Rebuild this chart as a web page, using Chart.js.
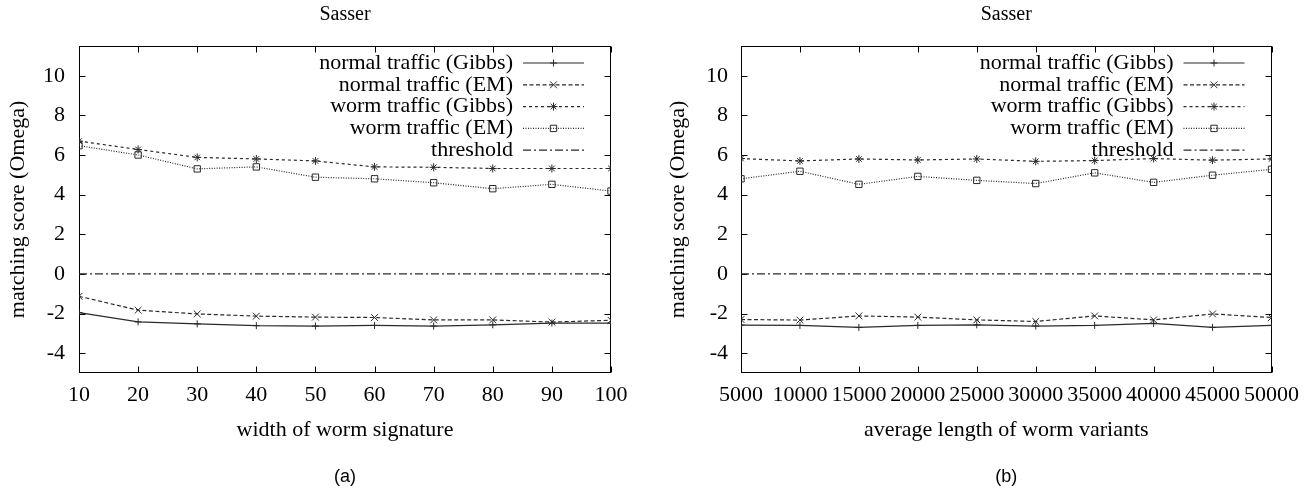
<!DOCTYPE html>
<html>
<head>
<meta charset="utf-8">
<title>Sasser</title>
<script src="https://cdn.jsdelivr.net/npm/chart.js@4.4.1/dist/chart.umd.min.js"></script>
<style>
  html, body { margin: 0; padding: 0; background: #fff; }
  #wrap { position: relative; width: 1308px; height: 498px; }
  .panel { position: absolute; top: 0; width: 654px; height: 498px; }
</style>
</head>
<body>
<div id="wrap">
  <div class="panel" style="left:0"><canvas id="chartA" width="654" height="498"></canvas></div>
  <div class="panel" style="left:654px"><canvas id="chartB" width="654" height="498"></canvas></div>
</div>
<script>
// --- DATOS ---
const seriesNames = ['normal traffic (Gibbs)', 'normal traffic (EM)', 'worm traffic (Gibbs)', 'worm traffic (EM)', 'threshold'];
const yTicks = [-4, -2, 0, 2, 4, 6, 8, 10];

// (a) width of worm signature
const widthA = [10, 20, 30, 40, 50, 60, 70, 80, 90, 100];
const normalGibbsA = [-1.95, -2.42, -2.52, -2.61, -2.63, -2.6, -2.63, -2.57, -2.48, -2.48];
const normalEmA = [-1.13, -1.83, -2.02, -2.13, -2.18, -2.2, -2.32, -2.32, -2.43, -2.34];
const wormGibbsA = [6.7, 6.28, 5.88, 5.8, 5.7, 5.4, 5.38, 5.32, 5.32, 5.32];
const wormEmA = [6.47, 6.0, 5.3, 5.4, 4.88, 4.8, 4.6, 4.3, 4.52, 4.18];
const thresholdA = [0, 0, 0, 0, 0, 0, 0, 0, 0, 0];

// (b) average length of worm variants
const lengthB = [5000, 10000, 15000, 20000, 25000, 30000, 35000, 40000, 45000, 50000];
const normalGibbsB = [-2.58, -2.6, -2.7, -2.6, -2.57, -2.63, -2.6, -2.5, -2.7, -2.6];
const normalEmB = [-2.3, -2.33, -2.12, -2.18, -2.32, -2.4, -2.12, -2.32, -2.02, -2.2];
const wormGibbsB = [5.82, 5.7, 5.8, 5.75, 5.8, 5.68, 5.72, 5.82, 5.74, 5.8];
const wormEmB = [4.8, 5.18, 4.52, 4.92, 4.72, 4.56, 5.1, 4.62, 4.98, 5.28];
const thresholdB = [0, 0, 0, 0, 0, 0, 0, 0, 0, 0];

// --- ESTILOS ---
const SERIF = '"Liberation Serif", "Times New Roman", serif';
Chart.defaults.font.family = SERIF;
Chart.defaults.color = '#000';

const estilos = [
  { borderDash: [], pointStyle: 'cross', pointRadius: 3.5 },
  { borderDash: [4, 2.5], pointStyle: 'crossRot', pointRadius: 4.8 },
  { borderDash: [3, 3], pointStyle: 'star', pointRadius: 4 },
  { borderDash: [1, 1.5], pointStyle: 'rect', pointRadius: 4.5 },
  { borderDash: [8, 3, 2, 3], pointStyle: 'circle', pointRadius: 0 }
];

// marco con marcas hacia dentro (estilo gnuplot)
const marcoPlugin = {
  id: 'marco',
  beforeDatasetsDraw(chart) {
    const { ctx, chartArea: a, scales: { x, y } } = chart;
    const L = Math.round(a.left) + 0.5, R = Math.round(a.right) - 0.5;
    const T = Math.round(a.top) + 0.5, B = Math.round(a.bottom) - 0.5;
    ctx.save();
    ctx.strokeStyle = '#000';
    ctx.lineWidth = 1;
    ctx.strokeRect(L, T, R - L, B - T);
    ctx.beginPath();
    x.ticks.forEach(t => {
      const px = Math.round(x.getPixelForValue(t.value)) + 0.5;
      ctx.moveTo(px, B); ctx.lineTo(px, B - 6);
      ctx.moveTo(px, T); ctx.lineTo(px, T + 6);
    });
    y.ticks.forEach(t => {
      const py = Math.round(y.getPixelForValue(t.value)) + 0.5;
      ctx.moveTo(L, py); ctx.lineTo(L + 6, py);
      ctx.moveTo(R, py); ctx.lineTo(R - 6, py);
    });
    ctx.stroke();
    ctx.restore();
  }
};

// leyenda dentro del área, texto alineado a la derecha y muestra a la derecha
const leyendaPlugin = {
  id: 'leyenda',
  afterDatasetsDraw(chart) {
    const { ctx, chartArea: a } = chart;
    ctx.save();
    ctx.font = '22px ' + SERIF;
    ctx.textAlign = 'right';
    ctx.textBaseline = 'middle';
    chart.data.datasets.forEach((ds, i) => {
      const yy = a.top + 17 + i * 21.8;
      ctx.fillStyle = '#000';
      ctx.fillText(ds.label, a.right - 98, yy);
      ctx.strokeStyle = ds.borderColor;
      ctx.lineWidth = ds.borderWidth;
      ctx.setLineDash(ds.borderDash);
      ctx.beginPath();
      ctx.moveTo(a.right - 88, yy);
      ctx.lineTo(a.right - 27, yy);
      ctx.stroke();
      ctx.setLineDash([]);
      if (ds.pointRadius > 0) {
        ctx.fillStyle = 'rgba(0,0,0,0)';
        ctx.lineWidth = 1;
        Chart.helpers.drawPoint(ctx, { pointStyle: ds.pointStyle, radius: ds.pointRadius, rotation: 0, borderWidth: 1 }, a.right - 57.5, yy);
      }
    });
    ctx.restore();
  }
};

function serie(xs, ys) {
  return xs.map((x, i) => ({ x: x, y: ys[i] }));
}

function crearGrafico(id, cfg) {
  const valores = [cfg.normalGibbs, cfg.normalEm, cfg.wormGibbs, cfg.wormEm, cfg.threshold];
  const datasets = valores.map((ys, i) => ({
    label: seriesNames[i],
    data: serie(cfg.xs, ys),
    borderColor: '#2a2a2a',
    borderWidth: 1.2,
    borderDash: estilos[i].borderDash,
    pointStyle: estilos[i].pointStyle,
    pointRadius: estilos[i].pointRadius,
    pointBorderColor: '#2a2a2a',
    pointBackgroundColor: 'rgba(0,0,0,0)',
    pointBorderWidth: 1,
    tension: 0,
    fill: false
  }));

  return new Chart(document.getElementById(id), {
    type: 'line',
    data: { datasets: datasets },
    plugins: [marcoPlugin, leyendaPlugin],
    options: {
      responsive: false,
      animation: false,
      devicePixelRatio: 1,
      events: [],
      layout: { padding: { left: 0, right: cfg.padRight, top: 0, bottom: 0 } },
      plugins: {
        legend: { display: false },
        tooltip: { enabled: false },
        title: {
          display: true,
          text: 'Sasser',
          fullSize: false,
          color: '#000',
          font: { family: SERIF, size: 20, weight: 'normal' },
          padding: { top: 3, bottom: 19 }
        },
        subtitle: {
          display: true,
          text: cfg.caption,
          position: 'bottom',
          fullSize: false,
          color: '#000',
          font: { family: '"Liberation Sans", Arial, sans-serif', size: 18, weight: 'normal' },
          padding: { top: 0, bottom: 10.2 }
        }
      },
      scales: {
        x: {
          type: 'linear',
          min: cfg.xs[0],
          max: cfg.xs[cfg.xs.length - 1],
          afterBuildTicks: s => { s.ticks = cfg.xs.map(v => ({ value: v })); },
          afterFit: s => { s.height = 93.2; },
          grid: { display: false, drawTicks: false },
          border: { display: false },
          ticks: {
            autoSkip: false,
            maxRotation: 0,
            padding: 9,
            color: '#000',
            font: { family: SERIF, size: 22 },
            callback: v => String(v)
          },
          title: {
            display: true,
            text: cfg.xTitle,
            color: '#000',
            font: { family: SERIF, size: 22 },
            padding: { top: 0, bottom: 23 }
          }
        },
        y: {
          type: 'linear',
          min: -5,
          max: 11.5,
          afterBuildTicks: s => { s.ticks = yTicks.map(v => ({ value: v })); },
          afterFit: s => { s.width = cfg.yWidth; },
          grid: { display: false, drawTicks: false },
          border: { display: false },
          ticks: {
            padding: cfg.yTickPad,
            color: '#000',
            font: { family: SERIF, size: 22 },
            callback: v => String(v)
          },
          title: {
            display: true,
            text: 'matching score (Omega)',
            color: '#000',
            font: { family: SERIF, size: 22 },
            padding: { top: cfg.yTitlePad, bottom: 0 }
          }
        }
      }
    }
  });
}

crearGrafico('chartA', {
  xs: widthA, normalGibbs: normalGibbsA, normalEm: normalEmA, wormGibbs: wormGibbsA, wormEm: wormEmA, threshold: thresholdA,
  xTitle: 'width of worm signature', caption: '(a)',
  yWidth: 79, padRight: 43, yTickPad: 14, yTitlePad: 5
});

crearGrafico('chartB', {
  xs: lengthB, normalGibbs: normalGibbsB, normalEm: normalEmB, wormGibbs: wormGibbsB, wormEm: wormEmB, threshold: thresholdB,
  xTitle: 'average length of worm variants', caption: '(b)',
  yWidth: 87, padRight: 35, yTickPad: 13, yTitlePad: 11
});
</script>
</body>
</html>
